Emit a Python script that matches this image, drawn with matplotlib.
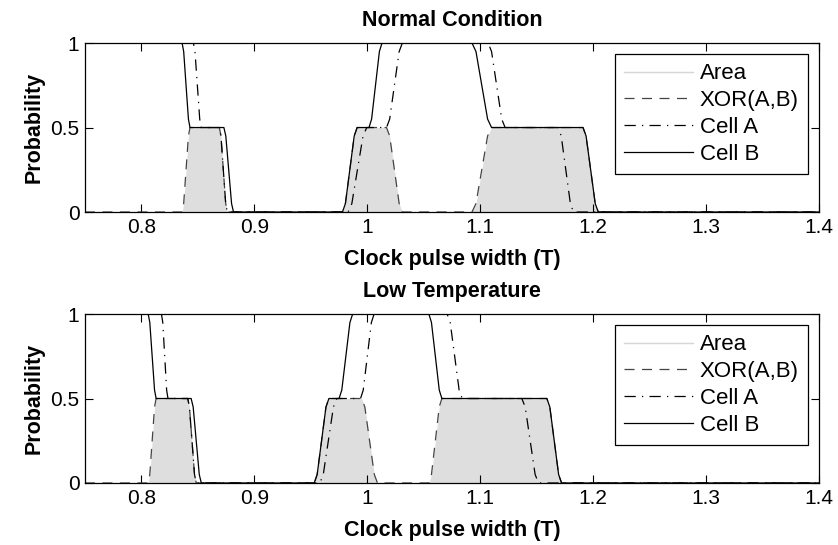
import matplotlib
matplotlib.use("Agg")
import matplotlib.pyplot as plt
from matplotlib.lines import Line2D

plt.rcParams['font.family'] = ['Liberation Sans', 'DejaVu Sans']

# --- data (clock pulse width T, probability) ---
# Normal Condition
normal_b_x = [0.75, 0.836, 0.8374, 0.8416, 0.843, 0.873, 0.8747, 0.8798, 0.8815,
              0.978, 0.9806, 0.9884, 0.991, 1.0015, 1.0038, 1.0107, 1.013,
              1.0927, 1.0962, 1.1065, 1.110, 1.191, 1.1937, 1.2018, 1.2045, 1.40]
normal_b_y = [1, 1, 0.95, 0.55, 0.5, 0.5, 0.45, 0.05, 0,
              0, 0.05, 0.45, 0.5, 0.5, 0.55, 0.95, 1,
              1, 0.95, 0.55, 0.5, 0.5, 0.45, 0.05, 0, 0]

normal_a_x = [0.75, 0.846, 0.8474, 0.8516, 0.853, 0.869, 0.8704, 0.8746, 0.876,
              0.983, 0.9863, 0.9962, 0.9995, 1.017, 1.0198, 1.0282, 1.031,
              1.107, 1.110, 1.119, 1.122, 1.169, 1.1717, 1.1798, 1.1825, 1.40]
normal_a_y = [1, 1, 0.95, 0.55, 0.5, 0.5, 0.45, 0.05, 0,
              0, 0.05, 0.45, 0.5, 0.5, 0.55, 0.95, 1,
              1, 0.95, 0.55, 0.5, 0.5, 0.45, 0.05, 0, 0]

normal_xor_x = [0.75, 0.836, 0.8374, 0.8416, 0.843, 0.869, 0.8704, 0.8746, 0.876,
                0.978, 0.9806, 0.9884, 0.991, 1.017, 1.0198, 1.0282, 1.031,
                1.0927, 1.0962, 1.1065, 1.110, 1.191, 1.1937, 1.2018, 1.2045, 1.40]
normal_xor_y = [0, 0, 0.05, 0.45, 0.5, 0.5, 0.45, 0.05, 0,
                0, 0.05, 0.45, 0.5, 0.5, 0.45, 0.05, 0,
                0, 0.05, 0.45, 0.5, 0.5, 0.45, 0.05, 0, 0]

# Low Temperature
low_b_x = [0.75, 0.806, 0.8074, 0.8116, 0.813, 0.844, 0.8458, 0.8512, 0.853,
           0.953, 0.9556, 0.9634, 0.966, 0.975, 0.9774, 0.9846, 0.987,
           1.0545, 1.0568, 1.0637, 1.066, 1.159, 1.1616, 1.1694, 1.172, 1.40]
low_b_y = [1, 1, 0.95, 0.55, 0.5, 0.5, 0.45, 0.05, 0,
           0, 0.05, 0.45, 0.5, 0.5, 0.55, 0.95, 1,
           1, 0.95, 0.55, 0.5, 0.5, 0.45, 0.05, 0, 0]

low_a_x = [0.75, 0.8177, 0.8189, 0.8223, 0.8235, 0.841, 0.8425, 0.847, 0.8485,
           0.958, 0.961, 0.970, 0.973, 0.994, 0.9964, 1.0036, 1.006,
           1.0707, 1.0734, 1.0813, 1.084, 1.1368, 1.1398, 1.1486, 1.1516, 1.40]
low_a_y = [1, 1, 0.95, 0.55, 0.5, 0.5, 0.45, 0.05, 0,
           0, 0.05, 0.45, 0.5, 0.5, 0.55, 0.95, 1,
           1, 0.95, 0.55, 0.5, 0.5, 0.45, 0.05, 0, 0]

low_xor_x = [0.75, 0.806, 0.8074, 0.8116, 0.813, 0.841, 0.8425, 0.847, 0.8485,
             0.953, 0.9556, 0.9634, 0.966, 0.995, 0.9978, 1.0062, 1.009,
             1.0545, 1.0568, 1.0637, 1.066, 1.159, 1.1616, 1.1694, 1.172, 1.40]
low_xor_y = [0, 0, 0.05, 0.45, 0.5, 0.5, 0.45, 0.05, 0,
             0, 0.05, 0.45, 0.5, 0.5, 0.45, 0.05, 0,
             0, 0.05, 0.45, 0.5, 0.5, 0.45, 0.05, 0, 0]

titles = ['Normal Condition', 'Low Temperature']
x_ticks = [0.8, 0.9, 1.0, 1.1, 1.2, 1.3, 1.4]
x_tick_labels = ['0.8', '0.9', '1', '1.1', '1.2', '1.3', '1.4']
y_ticks = [0, 0.5, 1]
y_tick_labels = ['0', '0.5', '1']
legend_labels = ['Area', 'XOR(A,B)', 'Cell A', 'Cell B']

panels = [
    (normal_xor_x, normal_xor_y, normal_a_x, normal_a_y, normal_b_x, normal_b_y),
    (low_xor_x, low_xor_y, low_a_x, low_a_y, low_b_x, low_b_y),
]

fig = plt.figure(figsize=(8.38, 5.45), dpi=100)
ax_top = fig.add_axes([0.1014, 0.611, 0.876, 0.310])
ax_bot = fig.add_axes([0.1014, 0.1138, 0.876, 0.310])

FILL = '#dedede'
FS = 15         # tick labels
FS_LEG = 16     # legend
FS_LAB = 15.5   # bold titles and axis labels

for ax, title, (xx, xy, ax_, ay, bx, by) in zip([ax_top, ax_bot], titles, panels):
    ax.fill_between(xx, xy, 0, color=FILL, lw=0, zorder=1)
    ax.plot(xx, xy, color='#444444', lw=0.9, dashes=(8, 6), zorder=2)
    ax.plot(ax_, ay, color='black', lw=0.9, dashes=(9, 5, 1, 5), zorder=3)
    ax.plot(bx, by, color='black', lw=0.9, zorder=4)

    ax.set_xlim(0.75, 1.4)
    ax.set_ylim(0, 1)
    ax.set_xticks(x_ticks)
    ax.set_xticklabels(x_tick_labels)
    ax.set_yticks(y_ticks)
    ax.set_yticklabels(y_tick_labels)
    ax.tick_params(direction='in', top=True, right=True, length=6, width=0.8,
                   labelsize=FS, pad=4)
    for s in ax.spines.values():
        s.set_linewidth(0.9)

    ax.set_title(title, fontsize=FS_LAB, fontweight='bold', pad=12)
    ax.set_xlabel('Clock pulse width (T)', fontsize=FS_LAB, fontweight='bold', labelpad=9)
    ax.set_ylabel('Probability', fontsize=FS_LAB, fontweight='bold', labelpad=4)

    handles = [
        Line2D([], [], color='#d6d6d6', lw=1.0),
        Line2D([], [], color='#444444', lw=0.9, dashes=(8, 6)),
        Line2D([], [], color='black', lw=0.9, dashes=(9, 5, 1, 5)),
        Line2D([], [], color='black', lw=0.9),
    ]
    leg = ax.legend(handles, legend_labels, loc='upper right',
                    bbox_to_anchor=(0.985, 0.935), borderaxespad=0,
                    fontsize=FS_LEG, handlelength=3.1, handletextpad=0.3,
                    labelspacing=0.26, borderpad=0.42, fancybox=False,
                    framealpha=1, edgecolor='black')
    leg.get_frame().set_linewidth(0.9)

fig.savefig('out.png', dpi=100, facecolor='white')
